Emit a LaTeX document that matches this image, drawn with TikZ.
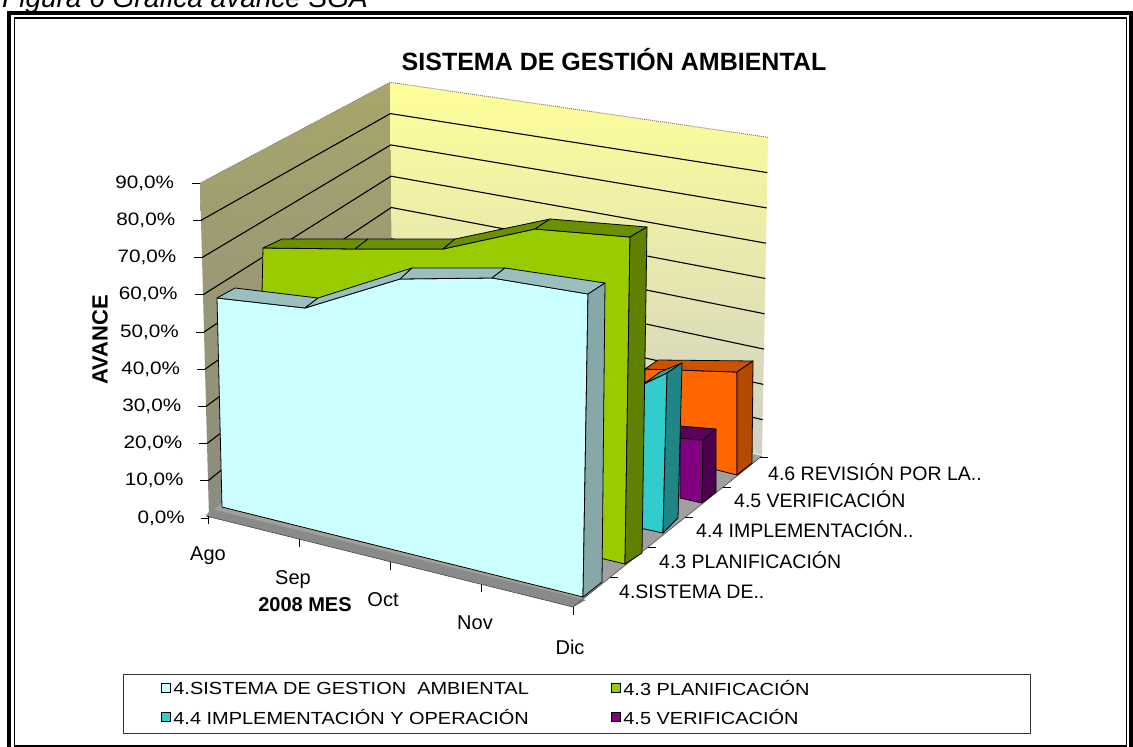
\documentclass[tikz,border=0pt]{standalone}
\usepackage{fontspec}
\setmainfont{Liberation Sans}
\usetikzlibrary{positioning}

\definecolor{lwalltop}{HTML}{A8A66A}
\definecolor{lwallbot}{HTML}{8A8A80}
\definecolor{bwalltop}{HTML}{FFFF99}
\definecolor{bwallbot}{HTML}{CFCFC6}
\definecolor{floorgray}{HTML}{A0A0A0}
\definecolor{floorfront}{HTML}{8A8A8A}
\definecolor{sgafront}{HTML}{CCFFFF}
\definecolor{sgatop}{HTML}{99BFBF}
\definecolor{sgaside}{HTML}{86A8A8}
\definecolor{planfront}{HTML}{99CC00}
\definecolor{plantop}{HTML}{6A9000}
\definecolor{planside}{HTML}{5F8000}
\definecolor{implfront}{HTML}{33CCCC}
\definecolor{impltop}{HTML}{29A3A3}
\definecolor{implside}{HTML}{1F8585}
\definecolor{verifront}{HTML}{800080}
\definecolor{veritop}{HTML}{5C005C}
\definecolor{veriside}{HTML}{4D004D}
\definecolor{revfront}{HTML}{FF6600}
\definecolor{revtop}{HTML}{CC5200}
\definecolor{revside}{HTML}{B34A00}

\begin{document}
\begin{tikzpicture}[x=1pt,y=-1pt,
    outline/.style={draw=black,line width=0.8pt,line join=round},
    gridline/.style={black,line width=1.1pt},
    axistick/.style={black,line width=1pt},
    ylbl/.style={font=\fontsize{18}{18}\selectfont,xscale=1.15,inner sep=0pt},
    monthlbl/.style={font=\fontsize{20}{20}\selectfont,inner sep=0pt},
    depthlbl/.style={font=\fontsize{19.5}{19.5}\selectfont,inner sep=0pt,anchor=west},
    legtext/.style={font=\fontsize{17.5}{17.5}\selectfont,xscale=1.14,inner sep=0pt,anchor=west},
    swatch/.style={draw=black,line width=1.3pt,minimum size=9pt,inner sep=0pt}]
\useasboundingbox (0,0) rectangle (1133,747);
\clip (0,0) rectangle (1133,747);

% Caption, cut at the top
\node[anchor=base west,inner sep=0pt,font=\fontsize{28}{28}\selectfont\itshape] (caption) at (2,7) {Figura 6 Gráfica avance SGA};

% Frame
\draw[line width=4pt] (9,13) rectangle (1131,760);
\draw[line width=1.2pt] (14.5,18) rectangle (1126.5,746);

% Define wall corners
\foreach \k in {0,...,9} {
    \coordinate (L\k) at ({209-\k},{518-37.2*\k});
    \coordinate (C\k) at ({393-0.33*\k},{364-31.3*\k});
    \coordinate (R\k) at ({762+0.67*\k},{455-35.3*\k});
}
\foreach \m in {0,...,4}
    \coordinate (M\m) at ({208+91.25*\m},{516+22.75*\m});
\foreach \j in {0,...,5}
    \coordinate (D\j) at ({573+37.4*\j},{607-30*\j});

% Walls and grid
\shade[top color=lwalltop,bottom color=lwallbot] (L0) -- (L9) -- (C9) -- (C0) -- cycle;
\shade[top color=bwalltop,bottom color=bwallbot] (C0) -- (C9) -- (R9) -- (R0) -- cycle;
\foreach \k in {1,...,8}
    \draw[gridline] (L\k) -- (C\k) -- (R\k);
\draw[gray,densely dotted,line width=1pt] (L9) -- (C9) -- (R9);

% Floor
\fill[floorgray] (206,516) -- (573,607) -- (762,456) -- (393,363) -- cycle;
\fill[floorfront] (206,516) -- (573,607) -- (586,600) -- (211,509) -- cycle;
\draw[black!70,line width=0.6pt] (206,516) -- (573,607) -- (762,456);

% Axis ticks
\foreach \k in {0,...,9}
    \draw[axistick] ([xshift=-8pt]L\k) -- (L\k);
\foreach \m in {0,...,4}
    \draw[axistick] (M\m) -- ([yshift=-8pt]M\m);
\foreach \j in {1,...,5}
    \draw[axistick] (D\j) -- ([xshift=8pt]D\j);

% 4.6 Revision
\filldraw[outline,fill=revfront] (645,369) -- (737,372) -- (737,475) -- (645,452) -- cycle;
\filldraw[outline,fill=revtop] (645,369) -- (737,372) -- (753,361) -- (658,360) -- cycle;
\filldraw[outline,fill=revside] (737,372) -- (753,361) -- (752,463) -- (737,475) -- cycle;

% 4.5 Verificacion
\filldraw[outline,fill=verifront] (680,438) -- (703,440) -- (702,503) -- (680,498) -- cycle;
\filldraw[outline,fill=veritop] (680,438) -- (703,440) -- (716,429) -- (680,426) -- cycle;
\filldraw[outline,fill=veriside] (703,440) -- (716,429) -- (716,492) -- (702,503) -- cycle;

% 4.4 Implementacion
\filldraw[outline,fill=implfront] (640,386) -- (667,373) -- (663,533) -- (640,528) -- cycle;
\filldraw[outline,fill=impltop] (645,383) -- (667,373) -- (682,363) -- (660,372) -- cycle;
\filldraw[outline,fill=implside] (667,373) -- (682,363) -- (678,518) -- (663,533) -- cycle;

% 4.3 Planificacion
\filldraw[outline,fill=planfront] (263,248) -- (355,249) -- (443,249) -- (535,229) -- (630,237)
    -- (625,564) -- (258,476) -- cycle;
\filldraw[outline,fill=plantop] (263,248) -- (355,249) -- (368,239) -- (282,239) -- cycle;
\filldraw[outline,fill=plantop] (355,249) -- (443,249) -- (455,239) -- (368,239) -- cycle;
\filldraw[outline,fill=plantop] (443,249) -- (535,229) -- (550,219) -- (455,239) -- cycle;
\filldraw[outline,fill=plantop] (535,229) -- (630,237) -- (647,227) -- (550,219) -- cycle;
\filldraw[outline,fill=planside] (630,237) -- (647,227) -- (642,553) -- (625,564) -- cycle;

% 4.Sistema de gestion
\filldraw[outline,fill=sgafront] (217,298) -- (305,308) -- (400,279) -- (492,278) -- (588,294)
    -- (583,597) -- (222,507) -- cycle;
\filldraw[outline,fill=sgatop] (217,298) -- (305,308) -- (318,298) -- (235,288) -- cycle;
\filldraw[outline,fill=sgatop] (305,308) -- (400,279) -- (412,268) -- (318,298) -- cycle;
\filldraw[outline,fill=sgatop] (400,279) -- (492,278) -- (505,268) -- (412,268) -- cycle;
\filldraw[outline,fill=sgatop] (492,278) -- (588,294) -- (605,283) -- (505,268) -- cycle;
\filldraw[outline,fill=sgaside] (588,294) -- (605,283) -- (602,582) -- (583,597) -- cycle;

% Axis labels
\foreach \k in {0,...,9}
    \node[ylbl,anchor=east] (ylbl\k) at ({185-1.2*\k},{518-37.2*\k}) {\ifnum\k=0 0\else\k0\fi,0\%};
\node[monthlbl] (ago) at (208,556) {Ago};
\node[monthlbl] (sep) at (293,580) {Sep};
\node[monthlbl] (oct) at (383,600) {Oct};
\node[monthlbl] (nov) at (475,623) {Nov};
\node[monthlbl] (dic) at (570,647) {Dic};
\node[depthlbl] (rev) at (768,472) {4.6 REVISIÓN POR LA..};
\node[depthlbl] (veri) at (734,499) {4.5 VERIFICACIÓN};
\node[depthlbl] (impl) at (696,529) {4.4 IMPLEMENTACIÓN..};
\node[depthlbl] (plan) at (659,560) {4.3 PLANIFICACIÓN};
\node[depthlbl] (sga) at (619,592) {4.SISTEMA DE..};

% Titles
\node[font=\fontsize{25}{25}\selectfont\bfseries] (title) at (614,60) {SISTEMA DE GESTIÓN AMBIENTAL};
\node[font=\fontsize{22}{22}\selectfont\bfseries,rotate=90] (avance) at (100,340) {AVANCE};
\node[font=\fontsize{20}{20}\selectfont\bfseries,inner sep=0pt] (mes) at (305,605) {2008 MES};

% Legend
\draw[black!80,line width=0.9pt] (123,674) rectangle (1030,733);
\node[swatch,fill=sgafront] (sw1) at (166,688) {};
\node[legtext,right=2pt of sw1] (lg1) {4.SISTEMA DE GESTION\ \ AMBIENTAL};
\node[swatch,fill=planfront] (sw2) at (616,688) {};
\node[legtext,right=2pt of sw2] (lg2) {4.3 PLANIFICACIÓN};
\node[swatch,fill=implfront] (sw3) at (166,717) {};
\node[legtext,right=2pt of sw3] (lg3) {4.4 IMPLEMENTACIÓN Y OPERACIÓN};
\node[swatch,fill=verifront] (sw4) at (616,717) {};
\node[legtext,right=2pt of sw4] (lg4) {4.5 VERIFICACIÓN};
\end{tikzpicture}
\end{document}
